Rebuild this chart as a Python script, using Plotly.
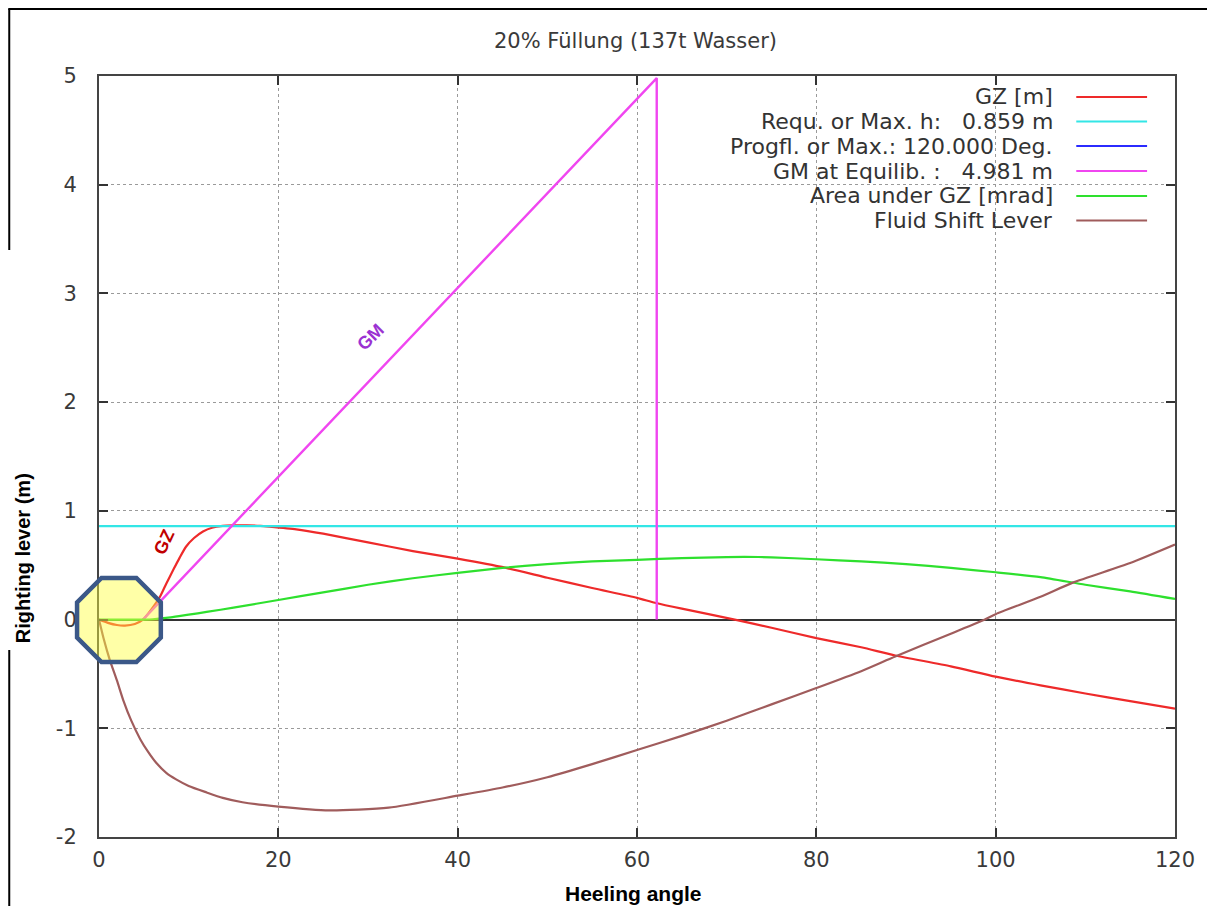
import plotly.graph_objects as go

# ---------------- data ----------------
title_text = "20% Füllung (137t Wasser)"
x_title = "Heeling angle"
y_title = "Righting lever (m)"

legend_labels = [
    "GZ [m]",
    "Requ. or Max. h:   0.859 m",
    "Progfl. or Max.: 120.000 Deg.",
    "GM at Equilib. :   4.981 m",
    "Area under GZ [mrad]",
    "Fluid Shift Lever",
]
legend_colors = ["#ee2a2a", "#33e6e6", "#2b2bff", "#f046f0", "#2ee02e", "#a05c5c"]

gz_x = [0, 1, 2, 2.9, 4, 4.9, 5.8, 6.8, 7.5, 8.3, 9, 9.7, 10.6, 11.6, 12.6, 13.8, 15, 16.5,
        18, 19, 22, 25, 30, 35, 40, 45.4, 50, 55, 60, 62, 65, 70.9, 75, 80, 85, 88.8, 95,
        100, 105, 110, 115, 120]
gz_y = [0, -0.03, -0.05, -0.055, -0.04, 0, 0.09, 0.21, 0.33, 0.46, 0.57, 0.67, 0.75, 0.81,
        0.845, 0.862, 0.866, 0.866, 0.862, 0.855, 0.83, 0.79, 0.71, 0.63, 0.56, 0.475,
        0.385, 0.29, 0.20, 0.155, 0.10, 0.0, -0.075, -0.17, -0.255, -0.33, -0.43, -0.525,
        -0.605, -0.68, -0.75, -0.82]

req_x = [0, 120]
req_y = [0.859, 0.859]

gm_x = [4.9, 62.2, 62.2]
gm_y = [0, 4.981, 0]

area_x = [0, 3, 5, 6, 8, 10, 12, 15, 20, 25, 30, 35, 40, 45, 50, 55, 60, 65, 70, 72, 75,
          80, 85, 90, 95, 100, 105, 110, 115, 120]
area_y = [0, 0, 0, 0.003, 0.02, 0.045, 0.07, 0.11, 0.18, 0.25, 0.32, 0.38, 0.43, 0.475,
          0.51, 0.535, 0.55, 0.565, 0.575, 0.577, 0.573, 0.555, 0.535, 0.51, 0.475, 0.435,
          0.39, 0.32, 0.26, 0.19]

fsl_x = [0, 0.5, 1.2, 2, 2.7, 3.6, 4.6, 5.5, 6.4, 7.5, 8.6, 10, 12, 13.8, 16, 20, 25.7,
         32.3, 40, 45, 50, 55, 60, 65, 70, 75, 80, 85, 88.8, 95, 98.8, 100, 105, 108.6,
         115, 120]
fsl_y = [0, -0.17, -0.37, -0.56, -0.74, -0.93, -1.10, -1.22, -1.32, -1.41, -1.47, -1.53,
         -1.59, -1.64, -1.68, -1.72, -1.755, -1.73, -1.62, -1.545, -1.45, -1.33, -1.20,
         -1.07, -0.93, -0.78, -0.63, -0.475, -0.34, -0.13, 0.0, 0.05, 0.21, 0.34, 0.52, 0.69]

x_ticks = [0, 20, 40, 60, 80, 100, 120]
x_tick_labels = ["0", "20", "40", "60", "80", "100", "120"]
y_ticks = [-2, -1, 0, 1, 2, 3, 4, 5]
y_tick_labels = ["-2", "-1", "0", "1", "2", "3", "4", "5"]

# ---------------- figure ----------------
# page body has an 8px margin: figure pixel = page pixel - 8
OFF = 8
W, H = 1199, 898
L, R, T, B = 99 - OFF, 1178 - OFF, 76 - OFF, 837 - OFF


def px(v):
    return (v - OFF - L) / (R - L)


def py(v):
    return (B - (v - OFF)) / (B - T)


fig = go.Figure()
series = [(gz_x, gz_y), (req_x, req_y), None, (gm_x, gm_y), (area_x, area_y), (fsl_x, fsl_y)]
smooth = [True, False, False, False, True, True]
for i, s in enumerate(series):
    if s is None:
        continue
    line = dict(color=legend_colors[i], width=2.2 if i != 3 else 2.4)
    if smooth[i]:
        line.update(shape="spline", smoothing=0.6)
    fig.add_trace(go.Scatter(x=s[0], y=s[1], mode="lines", name=legend_labels[i],
                             line=line, showlegend=False, hoverinfo="skip"))

tick_font = dict(family="DejaVu Sans", size=21, color="#3a3a3a")
fig.update_layout(
    width=W, height=H,
    margin=dict(l=L, r=W - R, t=T, b=H - B),
    plot_bgcolor="white", paper_bgcolor="white",
    showlegend=False,
    xaxis=dict(range=[0, 120], tickvals=x_ticks, ticktext=x_tick_labels, ticks="inside",
               ticklen=9, tickwidth=2,
               tickcolor="#333", showline=True, linecolor="#444", linewidth=2, mirror="ticks",
               showgrid=True, gridcolor="#9a9a9a", griddash="dot", gridwidth=1,
               zeroline=False, tickfont=tick_font, ticklabelstandoff=3),
    yaxis=dict(range=[-2, 5], tickvals=y_ticks, ticktext=y_tick_labels, ticks="inside",
               ticklen=9, tickwidth=2,
               tickcolor="#333", showline=True, linecolor="#444", linewidth=2, mirror="ticks",
               showgrid=True, gridcolor="#9a9a9a", griddash="dot", gridwidth=1,
               zeroline=True, zerolinecolor="#333", zerolinewidth=2,
               tickfont=tick_font, ticklabelstandoff=16),
)

shapes = []
# opaque legend box (hides grid behind the key)
shapes.append(dict(type="rect", xref="paper", yref="paper", x0=px(620), x1=px(1177),
                   y0=py(234), y1=py(77), fillcolor="white", line=dict(width=0), layer="between"))
# legend samples and labels
ann = []
row_y = [97, 121.5, 146, 171, 196, 220.5]
for i, lab in enumerate(legend_labels):
    shapes.append(dict(type="line", xref="paper", yref="paper", x0=px(1079), x1=px(1150),
                       y0=py(row_y[i]), y1=py(row_y[i]),
                       line=dict(color=legend_colors[i], width=2.2)))
    ann.append(dict(text=lab, xref="paper", yref="paper", x=px(1058), y=py(row_y[i]),
                    xanchor="right", yanchor="middle", showarrow=False,
                    font=dict(family="DejaVu Sans", size=22, color="#333")))

# highlight octagon near origin
cx, cy, a, h = 119, 620, 42, 17.5
pts = [(cx - h, cy - a), (cx + h, cy - a), (cx + a, cy - h), (cx + a, cy + h),
       (cx + h, cy + a), (cx - h, cy + a), (cx - a, cy + h), (cx - a, cy - h)]
path = "M " + " L ".join(f"{px(p[0]):.5f},{py(p[1]):.5f}" for p in pts) + " Z"
shapes.append(dict(type="path", xref="paper", yref="paper", path=path,
                   fillcolor="rgba(255,255,60,0.45)", line=dict(color="#3b5888", width=4.5),
                   layer="above"))

# frame lines of the screenshot
shapes.append(dict(type="line", xref="paper", yref="paper", x0=px(8), x1=px(1215),
                   y0=py(9), y1=py(9), line=dict(color="black", width=2)))
shapes.append(dict(type="line", xref="paper", yref="paper", x0=px(9), x1=px(9),
                   y0=py(9), y1=py(250), line=dict(color="black", width=2)))
shapes.append(dict(type="line", xref="paper", yref="paper", x0=px(9), x1=px(9),
                   y0=py(650), y1=py(914), line=dict(color="black", width=2)))

# title and axis titles
ann.append(dict(text=title_text, xref="paper", yref="paper", x=px(637), y=py(41),
                xanchor="center", yanchor="middle", showarrow=False,
                font=dict(family="DejaVu Sans", size=21, color="#3a3a3a")))
ann.append(dict(text=f"<b>{x_title}</b>", xref="paper", yref="paper", x=px(635), y=py(893),
                xanchor="center", yanchor="middle", showarrow=False,
                font=dict(family="Liberation Sans", size=21, color="black")))
ann.append(dict(text=f"<b>{y_title}</b>", xref="paper", yref="paper", x=px(23), y=py(558),
                xanchor="center", yanchor="middle", showarrow=False, textangle=-90,
                font=dict(family="Liberation Sans", size=20, color="black")))
# curve labels
ann.append(dict(text="<b>GZ</b>", xref="x", yref="y", x=7.3, y=0.71, showarrow=False,
                textangle=-65, font=dict(family="Liberation Sans", size=18, color="#c00000")))
ann.append(dict(text="<b>GM</b>", xref="x", yref="y", x=30.3, y=2.6, showarrow=False,
                textangle=-45, font=dict(family="Liberation Sans", size=18, color="#9b32d2")))

fig.update_layout(shapes=shapes, annotations=ann)
fig.write_html("out.html")
